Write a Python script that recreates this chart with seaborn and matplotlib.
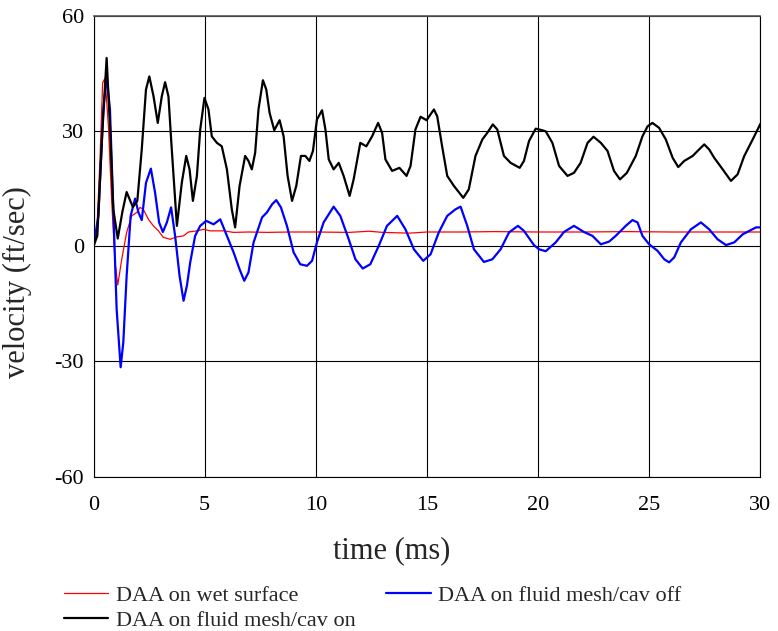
import seaborn as sns
import matplotlib
matplotlib.use('Agg')
import matplotlib.pyplot as plt
import pandas as pd

sns.set_style('white')
plt.rcParams['font.family'] = ['Liberation Serif', 'DejaVu Serif']
plt.rcParams['axes.unicode_minus'] = False

# series (time in ms, velocity in ft/sec)
time_wet = [0.0, 0.14, 0.29, 0.41, 0.52, 0.67, 0.82, 0.97, 1.09, 1.27, 1.49, 1.72, 1.95,
            2.09, 2.24, 2.47, 2.69, 2.92, 3.14, 3.45, 3.72, 4.05, 4.27, 4.65, 4.95, 5.25,
            5.85, 6.3, 7.0, 7.8, 8.85, 10.0, 11.5, 12.4, 13.0, 14.2, 15.0, 16.5, 18.0,
            20.0, 22.0, 24.0, 26.0, 28.0, 30.0]
vel_wet = [0.0, 2.7, 22.6, 42.5, 43.8, 31.2, 11.4, -4.2, -10.1, -3.4, 3.6, 7.9, 8.8,
           10.1, 9.6, 7.0, 5.3, 4.0, 2.3, 1.8, 2.4, 2.7, 3.7, 4.0, 4.4, 4.0,
           4.0, 3.6, 3.7, 3.6, 3.7, 3.7, 3.6, 3.9, 3.6, 3.4, 3.7, 3.7, 3.8,
           3.7, 3.7, 3.8, 3.7, 3.7, 3.7]

time_off = [0.0, 0.22, 0.44, 0.59, 0.74, 0.89, 1.04, 1.22, 1.34, 1.49, 1.67, 1.87, 2.02,
            2.17, 2.36, 2.58, 2.77, 2.95, 3.12, 3.3, 3.49, 3.67, 3.87, 4.05, 4.2, 4.35,
            4.57, 4.8, 5.07, 5.4, 5.7, 6.0, 6.3, 6.57, 6.78, 6.97, 7.2, 7.58, 7.8, 8.03,
            8.22, 8.43, 8.7, 9.0, 9.3, 9.6, 9.83, 10.05, 10.35, 10.8, 11.1, 11.48, 11.78,
            12.11, 12.45, 12.83, 13.2, 13.66, 14.03, 14.41, 14.83, 15.16, 15.53, 15.91,
            16.28, 16.51, 16.81, 17.11, 17.56, 17.94, 18.31, 18.69, 19.09, 19.36, 19.81,
            20.04, 20.34, 20.79, 21.16, 21.61, 22.06, 22.44, 22.82, 23.19, 23.49, 23.94,
            24.24, 24.47, 24.69, 24.99, 25.37, 25.67, 25.89, 26.12, 26.42, 26.87, 27.32,
            27.69, 28.07, 28.45, 28.82, 29.2, 29.5, 29.8, 30.0]
vel_off = [0.0, 7.9, 35.6, 44.2, 35.6, 9.6, -16.4, -31.5, -25.0, -7.7, 7.9, 12.4, 8.8,
           6.8, 16.5, 20.2, 13.9, 6.2, 3.7, 6.2, 10.1, 2.7, -7.7, -14.2, -10.3, -4.2,
           2.7, 5.3, 6.6, 5.7, 7.0, 2.7, -1.6, -6.0, -9.0, -6.8, 1.0, 7.5, 8.8, 10.9,
           12.0, 10.1, 5.3, -1.6, -4.7, -5.1, -3.8, 1.0, 6.2, 10.3, 7.9, 1.8, -3.4,
           -5.8, -4.7, 0.1, 5.3, 7.9, 4.4, -0.8, -3.8, -2.1, 3.6, 7.9,
           9.6, 10.3, 5.3, -0.8, -4.1, -3.4, -0.8, 3.6, 5.3, 4.0, 0.3,
           -0.8, -1.3, 1.0, 3.7, 5.3, 3.7, 2.7, 0.5, 1.2, 2.7, 5.3,
           6.8, 6.2, 2.7, 0.5, -1.2, -3.4, -4.2, -2.9, 1.0, 4.4, 6.2,
           4.4, 1.8, 0.3, 1.0, 3.1, 4.0, 4.9, 4.9]

time_on = [0.0, 0.17, 0.4, 0.59, 0.75, 0.89, 1.09, 1.3, 1.49, 1.77, 1.97, 2.17, 2.36,
           2.51, 2.7, 2.89, 3.07, 3.22, 3.37, 3.52, 3.75, 3.97, 4.17, 4.32, 4.47, 4.65,
           4.8, 4.99, 5.17, 5.32, 5.55, 5.77, 6.0, 6.22, 6.37, 6.57, 6.82, 6.97, 7.12,
           7.27, 7.42, 7.62, 7.77, 7.92, 8.13, 8.37, 8.55, 8.73, 8.93, 9.12, 9.33, 9.53,
           9.71, 9.87, 10.05, 10.28, 10.43, 10.58, 10.8, 11.03, 11.25, 11.52, 11.7, 12.0,
           12.27, 12.53, 12.8, 12.98, 13.13, 13.43, 13.76, 14.08, 14.26, 14.48, 14.71,
           14.98, 15.31, 15.46, 15.68, 15.91, 16.21, 16.63, 16.88, 17.18, 17.49, 17.71,
           17.96, 18.16, 18.46, 18.76, 19.17, 19.36, 19.59, 19.89, 20.11, 20.34, 20.64,
           20.94, 21.32, 21.61, 21.91, 22.22, 22.49, 22.82, 23.12, 23.41, 23.68, 23.99,
           24.39, 24.69, 24.92, 25.14, 25.44, 25.74, 26.05, 26.3, 26.57, 26.95, 27.24,
           27.47, 27.69, 27.92, 28.3, 28.67, 28.97, 29.27, 29.65, 30.0]
vel_on = [0.0, 2.7, 30.0, 49.0, 30.0, 9.6, 2.0, 9.0, 14.1, 10.2, 11.8, 25.2, 40.8,
          44.2, 39.0, 32.1, 39.0, 42.7, 39.0, 25.2, 5.3, 16.5, 23.5, 20.0, 11.8, 18.3,
          30.4, 38.6, 35.6, 28.6, 26.9, 26.0, 20.0, 9.6, 4.9, 15.7, 23.5, 22.2, 20.0,
          24.3, 35.6, 43.2, 40.8, 34.7, 30.2, 32.8, 28.6, 18.3, 11.8, 15.7, 23.5, 23.5,
          22.2, 24.8, 33.0, 35.4, 30.4, 22.6, 20.0, 21.7, 18.3, 13.1, 17.4, 26.9,
          26.0, 28.6, 32.1, 29.5, 22.6, 19.6, 20.4, 18.3, 20.9, 30.4, 33.7,
          32.8, 35.6, 33.8, 26.0, 18.3, 15.7, 12.6, 14.8, 23.5, 27.8, 29.5,
          31.7, 30.4, 23.5, 21.7, 20.4, 22.2, 27.4, 30.6, 30.3, 29.9, 26.9,
          20.9, 18.3, 19.1, 21.7, 26.9, 28.5, 26.9, 24.8, 19.6, 17.4, 19.1,
          23.5, 28.6, 31.2, 32.1, 30.8, 27.8, 23.0, 20.6, 22.2, 23.5, 25.2,
          26.5, 25.2, 23.0, 20.0, 17.0, 18.7, 23.5, 27.8, 31.9]

labels = ['DAA on wet surface', 'DAA on fluid mesh/cav off', 'DAA on fluid mesh/cav on']
colors = ['#ff0000', '#0000ff', '#000000']
widths = [0.9, 1.6, 1.6]

frames = []
for t, v, lab in zip([time_wet, time_off, time_on], [vel_wet, vel_off, vel_on], labels):
    frames.append(pd.DataFrame({'time': t, 'velocity': v, 'series': lab}))
df = pd.concat(frames, ignore_index=True)

fig = plt.figure(figsize=(7.78, 6.31), dpi=100)
ax = fig.add_axes([0.1202, 0.2445, 0.8573, 0.7306])

sns.lineplot(data=df, x='time', y='velocity', hue='series', size='series',
             hue_order=labels, size_order=labels,
             palette=dict(zip(labels, colors)), sizes=dict(zip(labels, widths)),
             estimator=None, sort=False, legend=False, ax=ax)
for ln in ax.get_lines():
    ln.set_solid_joinstyle('round')

ax.set_xlim(0, 30)
ax.set_ylim(-60, 60)
ax.set_xticks([0, 5, 10, 15, 20, 25, 30])
ax.set_yticks([-60, -30, 0, 30, 60])
ax.grid(True, color='black', linewidth=0.8)
ax.set_axisbelow(True)
for side in ['left', 'bottom', 'right']:
    ax.spines[side].set_color('black')
    ax.spines[side].set_linewidth(0.8)
ax.spines['top'].set_color('#555555')
ax.spines['top'].set_linewidth(1.2)

ax.tick_params(direction='out', length=4, width=0.8, colors='black', labelsize=16)
ax.tick_params(axis='x', pad=10)
ax.tick_params(axis='y', pad=3)

ax.set_xlabel('time (ms)', fontsize=22)
ax.xaxis.set_label_coords(0.447, -0.128)
ax.set_ylabel('velocity (ft/sec)', fontsize=22)
ax.yaxis.set_label_coords(-0.092, 0.4224)

lines = ax.get_lines()
handles = [lines[0], lines[2], lines[1]]
names = [labels[0], labels[2], labels[1]]
fig.legend(handles, names, ncol=2, loc='upper left', bbox_to_anchor=(64 / 778, 1 - 585 / 631),
           frameon=False, fontsize=16, handlelength=2.0, handletextpad=0.32,
           columnspacing=1.4, labelspacing=0.2, borderpad=0, borderaxespad=0)

fig.savefig('out.png', dpi=100)
